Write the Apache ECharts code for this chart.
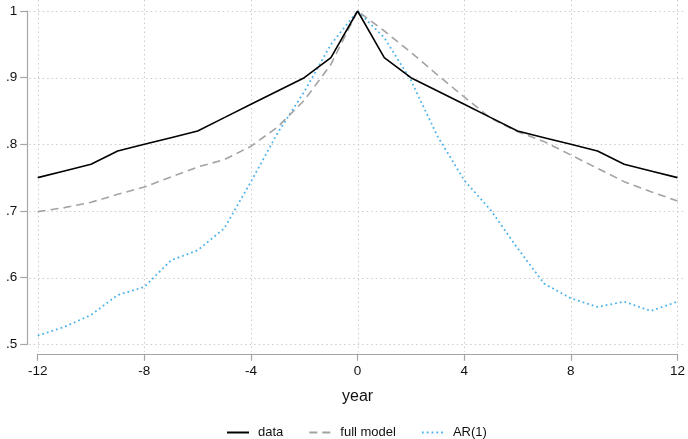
<!DOCTYPE html>
<html>
<head>
<meta charset="utf-8">
<script src="https://cdn.jsdelivr.net/npm/echarts@6/dist/echarts.min.js"></script>
<style>
  html, body { margin: 0; padding: 0; background: #fff; }
  #chart { width: 688px; height: 439px; }
</style>
</head>
<body>
<div id="chart"></div>
<script>
// Autocorrelation by lag (years), observed vs. two model fits
const years = [-12,-11,-10,-9,-8,-7,-6,-5,-4,-3,-2,-1,0,1,2,3,4,5,6,7,8,9,10,11,12];
const observed = [0.75,0.76,0.77,0.79,0.80,0.81,0.82,0.84,0.86,0.88,0.90,0.93,1.00,
                  0.93,0.90,0.88,0.86,0.84,0.82,0.81,0.80,0.79,0.77,0.76,0.75];
const fullModel = [0.699,0.705,0.713,0.725,0.736,0.751,0.766,0.777,0.797,0.826,0.866,0.920,1.000,
                   0.970,0.938,0.904,0.871,0.839,0.819,0.804,0.784,0.764,0.744,0.729,0.715];
const ar1 = [0.513,0.526,0.544,0.574,0.586,0.626,0.641,0.674,0.744,0.817,0.879,0.950,1.000,
             0.960,0.896,0.812,0.746,0.701,0.644,0.591,0.569,0.556,0.564,0.550,0.564];
const seriesNames = ['data', 'full model', 'AR(1)'];
const xTickValues = [-12, -8, -4, 0, 4, 8, 12];
const yTickValues = [0.5, 0.6, 0.7, 0.8, 0.9, 1];

const pairs = vals => years.map((y, i) => [y, vals[i]]);
const font = 'Liberation Sans, Arial, Helvetica, sans-serif';
const axisGray = '#a6a6a6';
const xAxisOffset = 9.5;
const yAxisOffset = 10.5;

const chart = echarts.init(document.getElementById('chart'), null, { renderer: 'canvas' });
chart.setOption({
  animation: false,
  backgroundColor: '#fff',
  textStyle: { fontFamily: font },
  grid: { left: 37.7, right: 9, top: 11, bottom: 94.7, containLabel: false },
  xAxis: {
    type: 'value',
    min: xTickValues[0], max: xTickValues[xTickValues.length - 1], interval: 4,
    offset: xAxisOffset,
    name: 'year',
    nameLocation: 'middle',
    nameGap: 35,
    nameTextStyle: { fontSize: 16, color: '#111', fontFamily: font },
    axisLine: { show: true, onZero: false, lineStyle: { color: axisGray, width: 1.2 } },
    axisTick: { show: true, length: 7, lineStyle: { color: axisGray, width: 1.2 } },
    axisLabel: { fontSize: 13.5, color: '#111', margin: 10, fontFamily: font },
    splitLine: { show: false }
  },
  yAxis: {
    type: 'value',
    min: yTickValues[0], max: yTickValues[yTickValues.length - 1], interval: 0.1,
    offset: yAxisOffset,
    axisLine: { show: true, onZero: false, lineStyle: { color: axisGray, width: 1.2 } },
    axisTick: { show: true, length: 7, lineStyle: { color: axisGray, width: 1.2 } },
    axisLabel: {
      fontSize: 13.5, color: '#111', margin: 10, fontFamily: font,
      formatter: v => {
        const r = Math.round(v * 10) / 10;
        return r >= 1 ? '1' : String(r).replace(/^0/, '');
      }
    },
    splitLine: { show: false }
  },
  legend: {
    left: 226,
    top: 426,
    padding: 0,
    itemWidth: 22,
    itemHeight: 14,
    itemGap: 25,
    itemStyle: { opacity: 0, borderWidth: 0 },
    textStyle: { fontSize: 13, color: '#111', fontFamily: font, padding: [0, 0, 0, 4] },
    data: seriesNames
  },
  series: [
    {
      name: seriesNames[0], type: 'line', data: pairs(observed),
      symbol: 'none', z: 4,
      lineStyle: { color: '#000', width: 1.6 },
      itemStyle: { color: '#000' }
    },
    {
      name: seriesNames[1], type: 'line', data: pairs(fullModel),
      symbol: 'none', z: 3,
      lineStyle: { color: '#a3a3a3', width: 1.6, type: [8, 5] },
      itemStyle: { color: '#a3a3a3' }
    },
    {
      name: seriesNames[2], type: 'line', data: pairs(ar1),
      symbol: 'none', z: 2,
      lineStyle: { color: '#4db3ea', width: 1.8, type: [1.8, 3] },
      itemStyle: { color: '#4db3ea' }
    }
  ]
});

// Dotted gridlines at each tick, reaching out to the offset axis lines
const toPx = (x, y) => chart.convertToPixel({ xAxisIndex: 0, yAxisIndex: 0 }, [x, y]);
const [leftPx, bottomPx] = toPx(xTickValues[0], yTickValues[0]);
const axisLeftX = leftPx - yAxisOffset;
const axisBottomY = bottomPx + xAxisOffset;
const rightEdge = chart.getWidth() - 2;
const gridStyle = { stroke: '#cccccc', lineWidth: 1, lineDash: [1.5, 3] };
const gridGraphics = [];
yTickValues.forEach(v => {
  const py = Math.round(toPx(0, v)[1]) + 0.5;
  gridGraphics.push({ type: 'line', silent: true, z: 0,
    shape: { x1: axisLeftX + 2, y1: py, x2: rightEdge, y2: py }, style: gridStyle });
});
xTickValues.forEach(v => {
  const px = Math.round(toPx(v, 0)[0]) + 0.5;
  gridGraphics.push({ type: 'line', silent: true, z: 0,
    shape: { x1: px, y1: 0, x2: px, y2: axisBottomY - 2 }, style: gridStyle });
});
chart.setOption({ graphic: gridGraphics });
</script>
</body>
</html>
